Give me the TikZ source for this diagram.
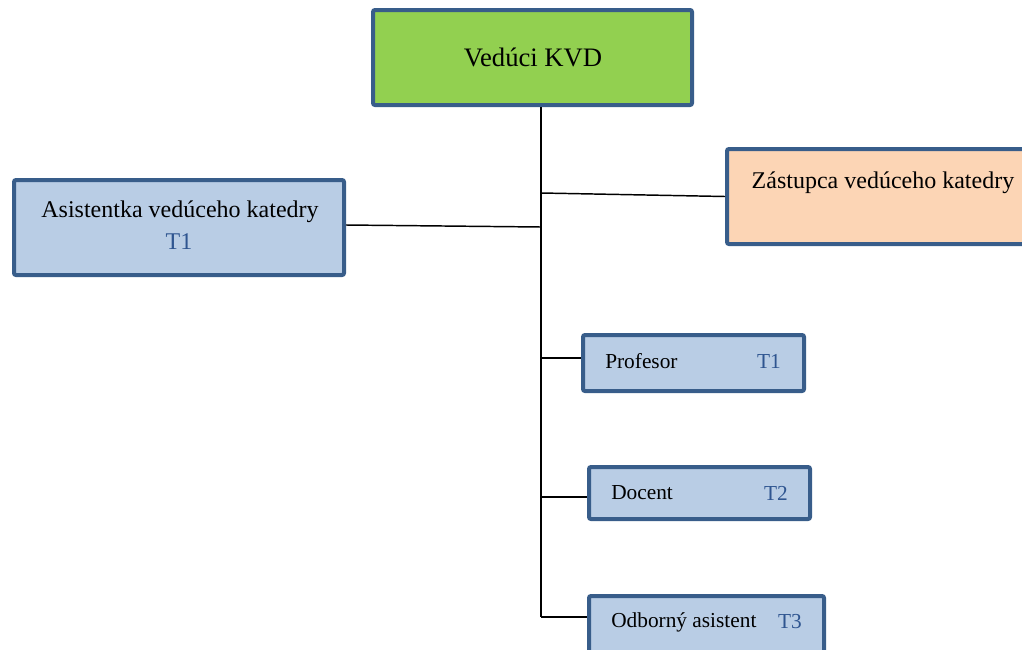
\documentclass[tikz,border=0pt]{standalone}
\usepackage{fontspec}
\setmainfont{Liberation Serif}
\usetikzlibrary{fit}
\definecolor{bordc}{HTML}{385D8A}
\definecolor{greenf}{HTML}{92D050}
\definecolor{bluef}{HTML}{B9CDE5}
\definecolor{peachf}{HTML}{FCD5B5}
\definecolor{tcol}{HTML}{2F5590}
\tikzset{
  orgbox/.style={draw=bordc, line width=3pt, rounded corners=1.5pt, inner sep=0pt},
  conn/.style={draw=black, line width=1.1pt},
  lbl/.style={inner sep=0pt, anchor=center, text=black},
  tlbl/.style={inner sep=0pt, anchor=center, text=tcol},
}
\begin{document}
\begin{tikzpicture}[x=0.75pt,y=-0.75pt]
\useasboundingbox (0,0) rectangle (1022,650);
\clip (0,0) rectangle (1022,650);
% boxes
\node[orgbox, fill=greenf, fit={(373,10)(692,105)}] (vk) {};
\node[orgbox, fill=peachf, fit={(727,149)(1045,244)}] (zs) {};
\node[orgbox, fill=bluef, fit={(14,180)(344,275)}] (as) {};
\node[orgbox, fill=bluef, fit={(583,335)(804,391)}] (pr) {};
\node[orgbox, fill=bluef, fit={(589,467)(810,519)}] (dc) {};
\node[orgbox, fill=bluef, fit={(589,596)(824,665)}] (oa) {};
% labels
\node[lbl, font=\fontsize{20pt}{24pt}\selectfont] (vkt) at (533,57) {Vedúci KVD};
\node[lbl, font=\fontsize{18pt}{22pt}\selectfont] (zst) at (883,183) {Zástupca vedúceho katedry};
\node[lbl, font=\fontsize{18pt}{22pt}\selectfont] (ast) at (180,212) {Asistentka vedúceho katedry};
\node[tlbl, font=\fontsize{18pt}{22pt}\selectfont] (ast2) at (179,242) {T1};
\node[lbl, font=\fontsize{16pt}{20pt}\selectfont, anchor=west] (prt) at (605,361) {Profesor};
\node[tlbl, font=\fontsize{16pt}{20pt}\selectfont] (prt2) at (769,361) {T1};
\node[lbl, font=\fontsize{16pt}{20pt}\selectfont, anchor=west] (dct) at (611,493) {Docent};
\node[tlbl, font=\fontsize{16pt}{20pt}\selectfont] (dct2) at (776,493) {T2};
\node[lbl, font=\fontsize{16pt}{20pt}\selectfont, anchor=west] (oat) at (611,622) {Odborný asistent};
\node[tlbl, font=\fontsize{16pt}{20pt}\selectfont] (oat2) at (790,622) {T3};
% trunk coordinates
\coordinate (t0) at (541,107);
\coordinate (j1) at (541,193);
\coordinate (j2) at (541,227);
\coordinate (j3) at (541,358);
\coordinate (j4) at (541,497);
\coordinate (j5) at (541,617);
\draw[conn] (t0) -- (j5);
\draw[conn] (j1) -- (zs.west);
\draw[conn] (as.east) ++(0,-2.5) coordinate (ase) -- (j2);
\draw[conn] (j3) -- (j3 -| pr.west);
\draw[conn] (j4) -- (j4 -| dc.west);
\draw[conn] (j5) -- (j5 -| oa.west);
\end{tikzpicture}
\end{document}
